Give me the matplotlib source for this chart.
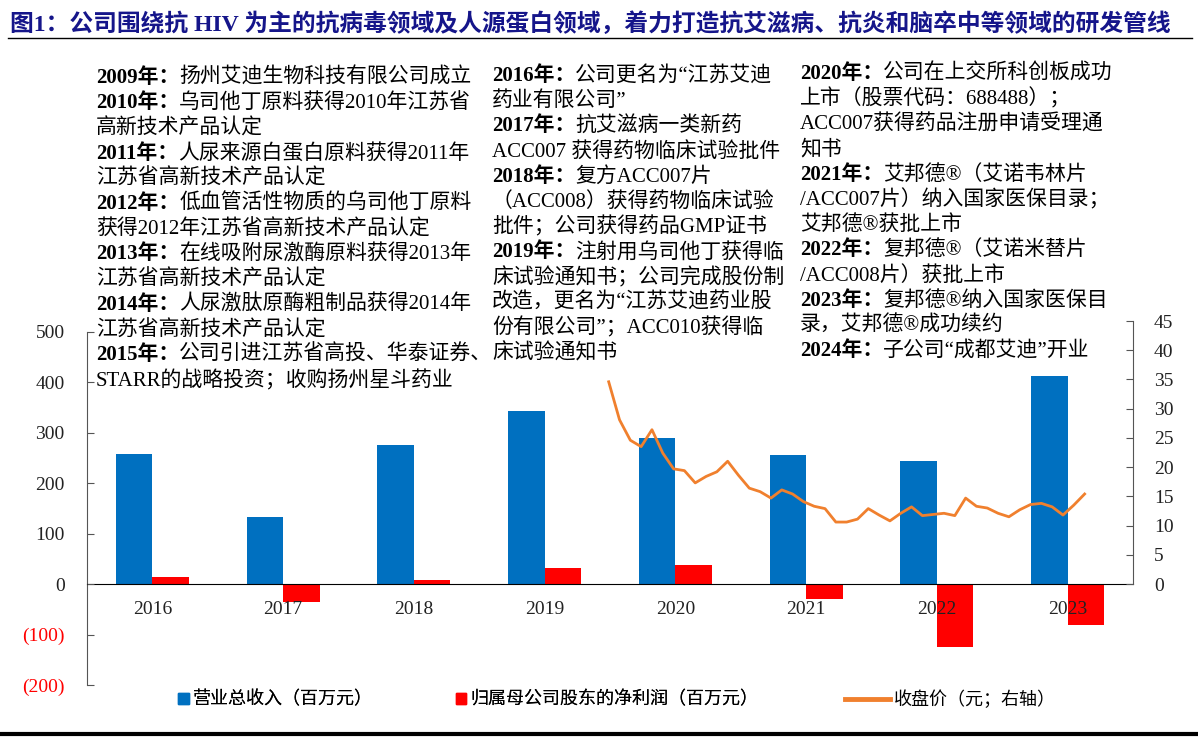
import numpy as np
import matplotlib
matplotlib.use("Agg")
import matplotlib.pyplot as plt
from matplotlib.patches import Patch
from matplotlib.lines import Line2D

# ---- data ----
years = ["2016", "2017", "2018", "2019", "2020", "2021", "2022", "2023"]
revenue = [257, 133, 275, 343, 289, 255, 243, 412]      # 营业总收入（百万元）
net_profit = [14, -35, 8, 31, 38, -30, -125, -82]       # 归母净利润（百万元）
close_price = [34.6, 28.1, 24.6, 23.5, 26.4, 22.4, 19.7, 19.4, 17.3, 18.4,
               19.2, 21.0, 18.6, 16.4, 15.8, 14.7, 16.1, 15.4, 14.1, 13.3,
               12.9, 10.6, 10.6, 11.1, 12.9, 11.8, 10.8, 12.1, 13.2, 11.7,
               11.9, 12.1, 11.7, 14.7, 13.3, 13.0, 12.1, 11.5, 12.7, 13.6,
               13.8, 13.2, 11.8, 13.5, 15.4]                # 收盘价（元）
left_ticks = [-200, -100, 0, 100, 200, 300, 400, 500]
right_ticks = list(range(0, 46, 5))

title = "图1：公司围绕抗 HIV 为主的抗病毒领域及人源蛋白领域，着力打造抗艾滋病、抗炎和脑卒中等领域的研发管线"

col1 = [("2009年：", "扬州艾迪生物科技有限公司成立"),
        ("2010年：", "乌司他丁原料获得2010年江苏省"),
        ("", "高新技术产品认定"),
        ("2011年：", "人尿来源白蛋白原料获得2011年"),
        ("", "江苏省高新技术产品认定"),
        ("2012年：", "低血管活性物质的乌司他丁原料"),
        ("", "获得2012年江苏省高新技术产品认定"),
        ("2013年：", "在线吸附尿激酶原料获得2013年"),
        ("", "江苏省高新技术产品认定"),
        ("2014年：", "人尿激肽原酶粗制品获得2014年"),
        ("", "江苏省高新技术产品认定"),
        ("2015年：", "公司引进江苏省高投、华泰证券、"),
        ("", "STARR的战略投资；收购扬州星斗药业")]
col2 = [("2016年：", "公司更名为“江苏艾迪"),
        ("", "药业有限公司”"),
        ("2017年：", "抗艾滋病一类新药"),
        ("", "ACC007 获得药物临床试验批件"),
        ("2018年：", "复方ACC007片"),
        ("", "（ACC008）获得药物临床试验"),
        ("", "批件；公司获得药品GMP证书"),
        ("2019年：", "注射用乌司他丁获得临"),
        ("", "床试验通知书；公司完成股份制"),
        ("", "改造，更名为“江苏艾迪药业股"),
        ("", "份有限公司”；ACC010获得临"),
        ("", "床试验通知书")]
col3 = [("2020年：", "公司在上交所科创板成功"),
        ("", "上市（股票代码：688488）；"),
        ("", "ACC007获得药品注册申请受理通"),
        ("", "知书"),
        ("2021年：", "艾邦德®（艾诺韦林片"),
        ("", "/ACC007片）纳入国家医保目录；"),
        ("", "艾邦德®获批上市"),
        ("2022年：", "复邦德®（艾诺米替片"),
        ("", "/ACC008片）获批上市"),
        ("2023年：", "复邦德®纳入国家医保目"),
        ("", "录，艾邦德®成功续约"),
        ("2024年：", "子公司“成都艾迪”开业")]

BLUE = "#0070C0"
RED = "#FF0000"
ORANGE = "#F0802E"
MIX = ["Liberation Serif", "Noto Sans CJK SC"]
plt.rcParams["font.family"] = MIX

W, H = 1198, 739
fig = plt.figure(figsize=(W / 100, H / 100), dpi=100)

ax = fig.add_axes([87 / W, 1 - 685 / H, (1133 - 87) / W, (685 - 321) / H])
ax.patch.set_alpha(0)
ax.set_axisbelow(False)
x = np.arange(len(years))
bw = 0.28
ax.bar(x - bw / 2, revenue, bw, color=BLUE, zorder=2)
ax.bar(x + bw / 2, net_profit, bw, color=RED, zorder=2)
ax.set_xlim(-0.5, len(years) - 0.5)
ax.set_ylim(-200, 521)
ax.set_yticks(left_ticks)
ax.set_yticklabels([f"({-v})" if v < 0 else str(v) for v in left_ticks])
for lab, v in zip(ax.get_yticklabels(), left_ticks):
    lab.set_color(RED if v < 0 else "#222222")
ax.set_xticks(x)
ax.set_xticklabels(years)
ax.tick_params(axis="y", direction="in", length=5, color="#555555", labelsize=14, pad=16)
ax.tick_params(axis="x", length=0, labelsize=14, pad=12, labelcolor="#222222")
ax.spines["left"].set_bounds(-200, 500)
ax.spines["left"].set_color("#555555")
ax.spines["bottom"].set_position(("data", 0))
ax.spines["bottom"].set_color("black")
ax.spines["top"].set_visible(False)
ax.spines["right"].set_visible(False)

ax2 = ax.twinx()
px = np.linspace(3.49, 7.13, len(close_price))
ax2.plot(px, close_price, color=ORANGE, lw=2, zorder=3)
ax2.set_ylim(-17.28, 45)
ax2.set_yticks(right_ticks)
ax2.tick_params(axis="y", direction="in", length=5, color="#555555", labelsize=14,
                labelcolor="#222222", pad=15)
ax2.spines["right"].set_bounds(0, 45)
ax2.spines["right"].set_color("#555555")
for s in ["left", "top", "bottom"]:
    ax2.spines[s].set_visible(False)

# ---- title & rules ----
fig.text(10 / W, 1 - 24 / H, title, fontsize=17.1, weight="bold", color="#15158A",
         va="center", ha="left")
fig.add_artist(Line2D([8 / W, 1192 / W], [1 - 38 / H] * 2, color="black", lw=1))
fig.add_artist(Line2D([0, 1], [1 - 734 / H] * 2, color="black", lw=3))

# ---- milestone text ----
def draw_col(lines, x0, y0, step=25.2):
    for i, (bold, rest) in enumerate(lines):
        y = 1 - (y0 + i * step) / H
        if bold:
            t = fig.text(x0 / W, y, bold, fontsize=15, weight="bold", va="center", ha="left")
            ax.annotate(rest, xy=(1, 0.5), xycoords=t, fontsize=15, va="center", ha="left",
                        annotation_clip=False)
        else:
            fig.text(x0 / W, y, rest, fontsize=15, va="center", ha="left")

draw_col(col1, 96, 78)
draw_col(col2, 492, 76)
draw_col(col3, 800, 74)

# ---- legends ----
h1 = [Patch(color=BLUE, label="营业总收入（百万元）"),
      Patch(color=RED, label="归属母公司股东的净利润（百万元）")]
leg1 = fig.legend(handles=h1, ncol=2, loc="center left", bbox_to_anchor=(178 / W, 1 - 700 / H),
                  frameon=False, fontsize=13, handlelength=0.6, handleheight=0.6,
                  handletextpad=0.2, columnspacing=4.6, borderpad=0, borderaxespad=0)
h2 = [Line2D([], [], color=ORANGE, lw=3.5, label="收盘价（元；右轴）")]
leg2 = fig.legend(handles=h2, loc="center left", bbox_to_anchor=(845 / W, 1 - 700 / H),
                  frameon=False, fontsize=13, handlelength=2.5, handletextpad=0.2,
                  borderpad=0, borderaxespad=0)
fig.add_artist(leg1)

fig.savefig("out.png", dpi=100)
